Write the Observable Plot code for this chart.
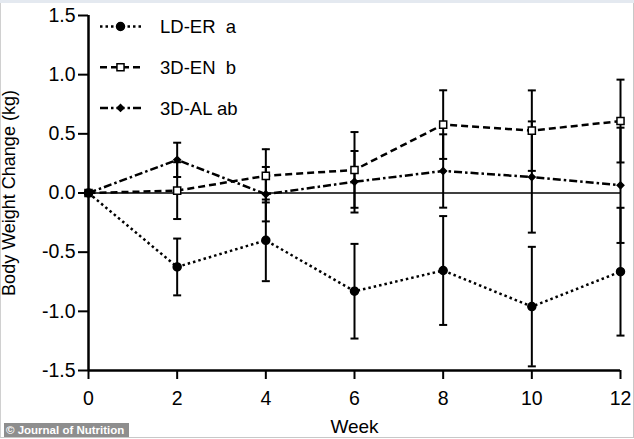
<!DOCTYPE html>
<html>
<head>
<meta charset="utf-8">
<script src="https://cdn.jsdelivr.net/npm/d3@7"></script>
<script src="https://cdn.jsdelivr.net/npm/@observablehq/plot@0.6"></script>
<style>
  html, body { margin: 0; padding: 0; background: #fff; }
  #wrap { position: relative; width: 634px; height: 439px; overflow: hidden; background: #fff; font-family: "Liberation Sans", Arial, sans-serif; }
  #wrap svg { display: block; }
  #legend { position: absolute; left: 0; top: 0; pointer-events: none; }
  #topband { position: absolute; left: 0; top: 0; width: 634px; height: 3px; background: #e4e9f0; }
  #edge { position: absolute; left: 0; top: 3px; width: 632px; height: 434px; border-left: 1px solid #d0d0d0; border-right: 1px solid #c8c8c8; border-bottom: 1px solid #c8c8c8; pointer-events: none; }
  #credit { position: absolute; left: 4px; top: 423px; height: 14px; line-height: 14px; padding: 0 5px 0 2px; background: #8e8e8e; color: #fff; font-weight: bold; font-size: 11.5px; font-family: "Liberation Sans", Arial, sans-serif; white-space: nowrap; }
</style>
</head>
<body>
<div id="wrap"></div>
<script>
// ---- data ----
const weeks = [0, 2, 4, 6, 8, 10, 12];
const seriesNames = ["LD-ER", "3D-EN", "3D-AL"];
const seriesLetters = ["a", "b", "ab"];
const ldErMean = [0, -0.625, -0.40, -0.83, -0.655, -0.96, -0.665];
const ldErSem  = [0, 0.24, 0.345, 0.40, 0.46, 0.505, 0.54];
const enMean   = [0, 0.02, 0.145, 0.195, 0.578, 0.527, 0.608];
const enSem    = [0, 0.24, 0.225, 0.32, 0.29, 0.34, 0.35];
const alMean   = [0, 0.28, -0.01, 0.095, 0.186, 0.135, 0.065];
const alSem    = [0, 0.145, 0.23, 0.26, 0.31, 0.47, 0.487];
const yTicks = [-1.5, -1.0, -0.5, 0.0, 0.5, 1.0, 1.5];
const xTicks = [0, 2, 4, 6, 8, 10, 12];

// ---- styles ----
const styles = {
  "LD-ER": {dash: "2.5,3", width: 2.5, symbol: "circle", fill: "black", r: 4},
  "3D-EN": {dash: "7,4", width: 2.5, symbol: "square", fill: "white", r: 4},
  "3D-AL": {dash: "8,3,2.5,3", width: 2.5, symbol: "diamond2", fill: "black", r: 3}
};

const means = [ldErMean, enMean, alMean];
const sems = [ldErSem, enSem, alSem];
const rows = seriesNames.flatMap((name, s) =>
  weeks.map((w, i) => ({series: name, week: w, mean: means[s][i], sem: sems[s][i],
                        lo: means[s][i] - sems[s][i], hi: means[s][i] + sems[s][i]})));
const errRows = rows.filter(d => d.sem > 0);

const cap = {
  draw(ctx, size) {
    const h = Math.sqrt(size / Math.PI);
    ctx.moveTo(-h, 0);
    ctx.lineTo(h, 0);
  }
};

const marks = [
  Plot.ruleY([0], {stroke: "black", strokeWidth: 1.5}),
  Plot.ruleX(errRows, {x: "week", y1: "lo", y2: "hi", stroke: "black", strokeWidth: 2}),
  Plot.dot(errRows, {x: "week", y: "lo", symbol: cap, r: 4, fill: "none", stroke: "black", strokeWidth: 2}),
  Plot.dot(errRows, {x: "week", y: "hi", symbol: cap, r: 4, fill: "none", stroke: "black", strokeWidth: 2})
];
for (const name of seriesNames) {
  const st = styles[name];
  marks.push(Plot.line(rows.filter(d => d.series === name), {
    x: "week", y: "mean", stroke: "black", strokeWidth: st.width, strokeDasharray: st.dash, strokeLinecap: "butt"
  }));
}
for (const name of ["3D-EN", "LD-ER", "3D-AL"]) {
  const st = styles[name];
  marks.push(Plot.dot(rows.filter(d => d.series === name), {
    x: "week", y: "mean", symbol: st.symbol, r: st.r, fill: st.fill, stroke: "black", strokeWidth: 1.5
  }));
}
marks.push(
  Plot.ruleX([0], {stroke: "black", strokeWidth: 2.5}),
  Plot.ruleY([-1.5], {stroke: "black", strokeWidth: 2.5}),
  Plot.axisY({ticks: yTicks, tickFormat: d => d.toFixed(1), tickSize: 10, tickPadding: 3, strokeWidth: 2,
              fontSize: 19.5, label: null}),
  Plot.axisY({ticks: [], label: "Body Weight Change (kg)", labelAnchor: "center", labelArrow: "none",
              labelOffset: 86, fontSize: 18}),
  Plot.axisX({ticks: xTicks, tickFormat: d => String(d), tickSize: 9, tickPadding: 12, strokeWidth: 2,
              fontSize: 19.5, label: null}),
  Plot.axisX({ticks: [], label: "Week", labelAnchor: "center", labelArrow: "none", labelOffset: 62, fontSize: 19})
);

const chart = Plot.plot({
  width: 634,
  height: 439,
  marginLeft: 88,
  marginRight: 14,
  marginTop: 15,
  marginBottom: 69,
  x: {domain: [0, 12]},
  y: {domain: [-1.5, 1.5]},
  style: {fontFamily: "'Liberation Sans', Arial, sans-serif", fontSize: "18px", color: "black", background: "white", overflow: "visible"},
  marks
});

const wrap = document.getElementById("wrap");
wrap.appendChild(chart);

// ---- legend (inside the plot area, top-left) ----
const legend = d3.select(wrap).append("svg").attr("id", "legend").attr("width", 634).attr("height", 130);
seriesNames.forEach((name, i) => {
  const st = styles[name];
  const cy = 26.5 + i * 40.7;
  const g = legend.append("g");
  g.append("line").attr("x1", 100).attr("x2", 141).attr("y1", cy).attr("y2", cy)
    .attr("stroke", "black").attr("stroke-width", st.width).attr("stroke-dasharray", st.dash);
  const sym = {circle: d3.symbolCircle, square: d3.symbolSquare, diamond2: d3.symbolDiamond2}[st.symbol];
  g.append("path").attr("transform", `translate(120.5,${cy})`)
    .attr("d", d3.symbol(sym, st.r * st.r * Math.PI)())
    .attr("fill", st.fill).attr("stroke", "black").attr("stroke-width", 1.5);
  g.append("text").attr("x", 160).attr("y", cy).attr("dy", "0.36em")
    .style("white-space", "pre").attr("xml:space", "preserve")
    .attr("font-family", "'Liberation Sans', Arial, sans-serif").attr("font-size", 18.5)
    .text(name + (seriesLetters[i].length > 1 ? " " : "  ") + seriesLetters[i]);
});

// ---- decoration ----
const band = document.createElement("div"); band.id = "topband"; wrap.appendChild(band);
const edge = document.createElement("div"); edge.id = "edge"; wrap.appendChild(edge);
const credit = document.createElement("div"); credit.id = "credit"; credit.textContent = "© Journal of Nutrition"; wrap.appendChild(credit);
</script>
</body>
</html>
